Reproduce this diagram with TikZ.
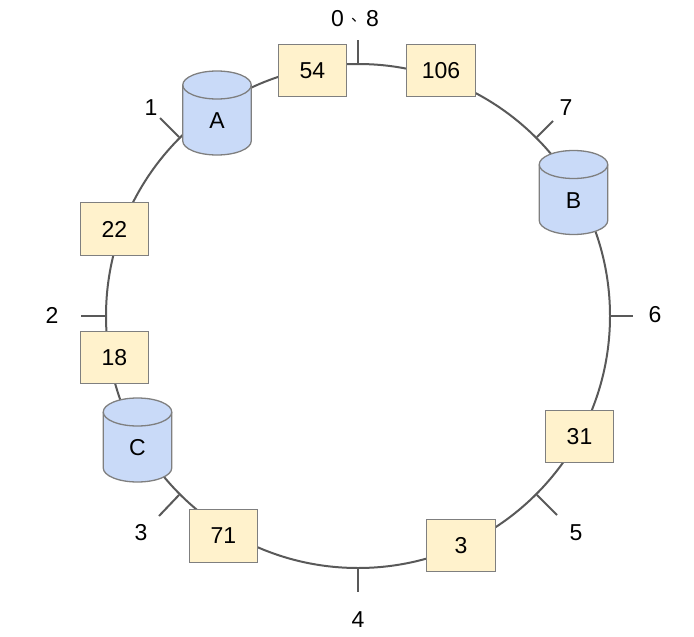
\documentclass[tikz,border=0pt]{standalone}
\usepackage{fontspec}
\setmainfont{Liberation Sans}
\newfontfamily\cjk{Noto Sans CJK SC}
\definecolor{boxfill}{HTML}{FFF2CC}
\definecolor{cylfill}{HTML}{C9DAF8}
\definecolor{edgegrey}{HTML}{7F7F7F}
\definecolor{ringgrey}{HTML}{595959}
\tikzset{
  every node/.style={font=\fontsize{23}{25}\selectfont,text=black},
  valuebox/.style={draw=edgegrey,fill=boxfill,line width=1.3pt,rectangle,minimum width=68.5pt,minimum height=52.5pt,inner sep=0pt},
  storeshape/.style={draw=edgegrey,fill=cylfill,line width=1.3pt},
  storelabel/.style={inner sep=0pt},
  ringline/.style={draw=ringgrey,line width=2pt},
  tickline/.style={draw=ringgrey,line width=2pt},
  ticklabel/.style={inner sep=0pt}
}
\newcommand{\storecyl}[4]{%
  \begin{scope}[shift={(#2,#3)}]
    \path[storeshape] (-34.25,-28) arc[start angle=180,end angle=0,x radius=34.25pt,y radius=14pt]
      -- (34.25,28) arc[start angle=0,end angle=-180,x radius=34.25pt,y radius=14pt] -- cycle;
    \path[storeshape,fill=none] (-34.25,-28) arc[start angle=180,end angle=360,x radius=34.25pt,y radius=14pt];
    \node[storelabel] (#1) at (0,8) {#4};
  \end{scope}}
\begin{document}
\begin{tikzpicture}[x=1pt,y=-1pt]
\useasboundingbox (0,0) rectangle (694,637);
\node[circle,ringline,minimum size=504pt,inner sep=0pt] (ring) at (358,316) {};
% tick ends
\coordinate (t0) at (358,40);
\coordinate (t7) at (553,121);
\coordinate (t6) at (633,316);
\coordinate (t5) at (557,515);
\coordinate (t4) at (358,592);
\coordinate (t3) at (159,516);
\coordinate (t2) at (81,316);
\coordinate (t1) at (160,118);
\draw[tickline] (ring.90) -- (t0);
\draw[tickline] (ring.45) -- (t7);
\draw[tickline] (ring.0) -- (t6);
\draw[tickline] (ring.-45) -- (t5);
\draw[tickline] (ring.-90) -- (t4);
\draw[tickline] (ring.-135) -- (t3);
\draw[tickline] (ring.180) -- (t2);
\draw[tickline] (ring.135) -- (t1);
% value boxes
\node[valuebox] (b54) at (312.5,70.5) {54};
\node[valuebox] (b106) at (441,70.5) {106};
\node[valuebox] (b22) at (114.5,229) {22};
\node[valuebox] (b18) at (114.5,357.5) {18};
\node[valuebox] (b71) at (223.5,536) {71};
\node[valuebox] (b3) at (461,545.5) {3};
\node[valuebox] (b31) at (579.5,436.5) {\raisebox{-1.5pt}{31}};
% stores
\storecyl{A}{217}{113}{A}
\storecyl{B}{573.5}{192.5}{B}
\storecyl{C}{137.5}{440}{C}
% tick labels
\node[ticklabel] (n0) at (355,19) {0\hspace{7pt}\raisebox{5pt}[0pt][0pt]{\fontsize{15}{16}\selectfont\cjk 、}8};
\node[ticklabel] (n7) at (566,108) {7};
\node[ticklabel] (n6) at (655,315) {6};
\node[ticklabel] (n5) at (576,533) {5};
\node[ticklabel] (n4) at (358,620) {4};
\node[ticklabel] (n3) at (141,533) {3};
\node[ticklabel] (n2) at (52,315) {2};
\node[ticklabel] (n1) at (151,108) {1};
\end{tikzpicture}
\end{document}
